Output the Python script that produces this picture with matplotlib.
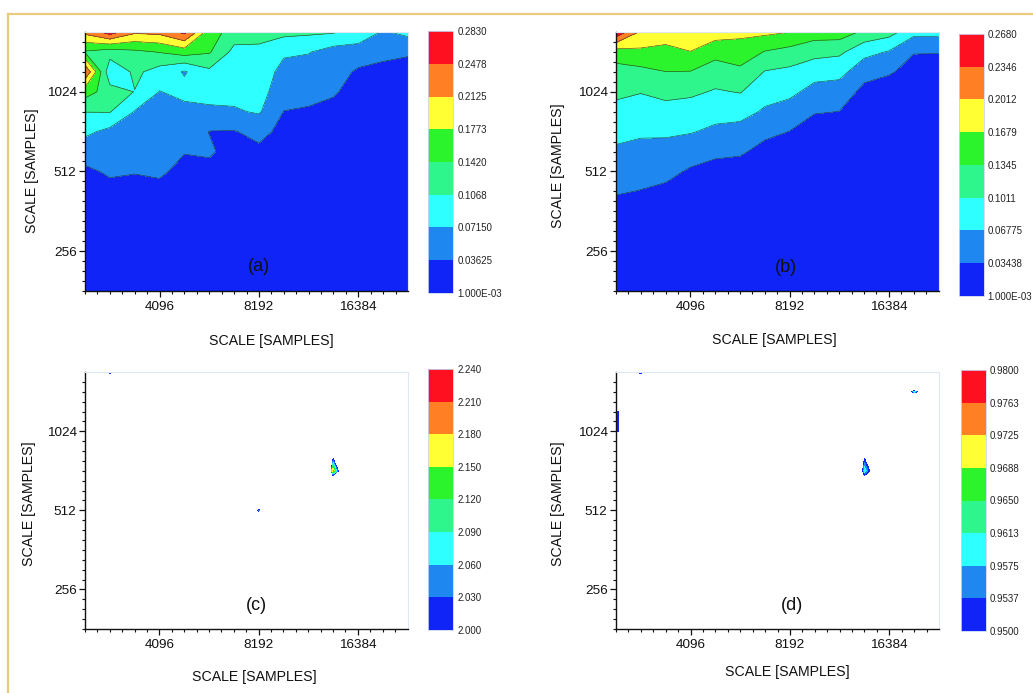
import numpy as np
import matplotlib
matplotlib.use("Agg")
import matplotlib.pyplot as plt
from matplotlib.lines import Line2D
from matplotlib.ticker import FixedLocator, FixedFormatter, NullFormatter

plt.rcParams['font.family'] = ['Liberation Sans', 'DejaVu Sans']

# grid of scales (samples), quarter-octave spacing
scale_x = [2435, 2896, 3444, 4096, 4871, 5793, 6889, 8192, 9742, 11585, 13777, 16384, 19484, 23170]
scale_y = [181, 215, 256, 304, 362, 431, 512, 609, 724, 861, 1024, 1218, 1448, 1722]

x_major = [4096, 8192, 16384]
y_major = [256, 512, 1024]

band_colors = ['#1024F8', '#1E88F0', '#2EFFFF', '#2EF58C', '#2CF42C', '#FFFF33', '#FF8024', '#FF1020']

levels_a = [0.001, 0.03625, 0.07150, 0.1068, 0.1420, 0.1773, 0.2125, 0.2478, 0.2830]
labels_a = ['1.000E-03', '0.03625', '0.07150', '0.1068', '0.1420', '0.1773', '0.2125', '0.2478', '0.2830']
levels_b = [0.001, 0.03438, 0.06775, 0.1011, 0.1345, 0.1679, 0.2012, 0.2346, 0.2680]
labels_b = ['1.000E-03', '0.03438', '0.06775', '0.1011', '0.1345', '0.1679', '0.2012', '0.2346', '0.2680']
levels_c = [2.000, 2.030, 2.060, 2.090, 2.120, 2.150, 2.180, 2.210, 2.240]
labels_c = ['2.000', '2.030', '2.060', '2.090', '2.120', '2.150', '2.180', '2.210', '2.240']
levels_d = [0.9500, 0.9537, 0.9575, 0.9613, 0.9650, 0.9688, 0.9725, 0.9763, 0.9800]
labels_d = ['0.9500', '0.9537', '0.9575', '0.9613', '0.9650', '0.9688', '0.9725', '0.9763', '0.9800']

# rows run from the smallest scale_y to the largest
z_a = [
    [0.0098, 0.0098, 0.0116, 0.0116, 0.0098, 0.0098, 0.0081, 0.0081, 0.0063, 0.0063, 0.0045, 0.0045, 0.0045, 0.0045],
    [0.0116, 0.0116, 0.0133, 0.0133, 0.0116, 0.0116, 0.0098, 0.0098, 0.0081, 0.0081, 0.0063, 0.0063, 0.0063, 0.0045],
    [0.0133, 0.0151, 0.0151, 0.0151, 0.0133, 0.0133, 0.0116, 0.0116, 0.0098, 0.0098, 0.0081, 0.0081, 0.0063, 0.0063],
    [0.0151, 0.0169, 0.0169, 0.0186, 0.0151, 0.0151, 0.0133, 0.0133, 0.0116, 0.0116, 0.0098, 0.0081, 0.0081, 0.0081],
    [0.0186, 0.0204, 0.0204, 0.0222, 0.0169, 0.0169, 0.0151, 0.0151, 0.0133, 0.0133, 0.0116, 0.0098, 0.0098, 0.0081],
    [0.0222, 0.0257, 0.0257, 0.0274, 0.0186, 0.0186, 0.0169, 0.0169, 0.0151, 0.0151, 0.0133, 0.0116, 0.0116, 0.0098],
    [0.0292, 0.0415, 0.0380, 0.0415, 0.0257, 0.0292, 0.0186, 0.0186, 0.0169, 0.0169, 0.0151, 0.0133, 0.0116, 0.0116],
    [0.0539, 0.0504, 0.0504, 0.0468, 0.0380, 0.0398, 0.0257, 0.0292, 0.0186, 0.0186, 0.0169, 0.0151, 0.0133, 0.0133],
    [0.0786, 0.0627, 0.0574, 0.0504, 0.0504, 0.0355, 0.0345, 0.0468, 0.0257, 0.0222, 0.0186, 0.0169, 0.0151, 0.0151],
    [0.1075, 0.1085, 0.0697, 0.0574, 0.0609, 0.0645, 0.0680, 0.0750, 0.0355, 0.0327, 0.0274, 0.0186, 0.0169, 0.0169],
    [0.1596, 0.1209, 0.1060, 0.0704, 0.0821, 0.0856, 0.0821, 0.0821, 0.0539, 0.0468, 0.0398, 0.0222, 0.0186, 0.0186],
    [0.2460, 0.0786, 0.1138, 0.0927, 0.0680, 0.0997, 0.0891, 0.0891, 0.0609, 0.0574, 0.0504, 0.0310, 0.0292, 0.0257],
    [0.1385, 0.1244, 0.1350, 0.1438, 0.1596, 0.1455, 0.0962, 0.0962, 0.0768, 0.0733, 0.0574, 0.0574, 0.0433, 0.0398],
    [0.2231, 0.2654, 0.2196, 0.2231, 0.2583, 0.1561, 0.1279, 0.1244, 0.1173, 0.1138, 0.1103, 0.0927, 0.0680, 0.0821],
]

z_b = [
    [0.0093, 0.0077, 0.0077, 0.0077, 0.0077, 0.0077, 0.0060, 0.0060, 0.0043, 0.0043, 0.0043, 0.0043, 0.0043, 0.0043],
    [0.0127, 0.0110, 0.0110, 0.0110, 0.0093, 0.0093, 0.0077, 0.0077, 0.0043, 0.0043, 0.0043, 0.0043, 0.0043, 0.0043],
    [0.0160, 0.0144, 0.0144, 0.0127, 0.0127, 0.0110, 0.0093, 0.0093, 0.0060, 0.0060, 0.0060, 0.0060, 0.0060, 0.0060],
    [0.0194, 0.0177, 0.0177, 0.0160, 0.0144, 0.0127, 0.0110, 0.0110, 0.0077, 0.0077, 0.0077, 0.0077, 0.0077, 0.0077],
    [0.0240, 0.0227, 0.0210, 0.0177, 0.0160, 0.0144, 0.0127, 0.0127, 0.0093, 0.0093, 0.0093, 0.0093, 0.0093, 0.0093],
    [0.0370, 0.0334, 0.0284, 0.0210, 0.0177, 0.0160, 0.0144, 0.0144, 0.0110, 0.0110, 0.0110, 0.0110, 0.0110, 0.0110],
    [0.0491, 0.0461, 0.0427, 0.0304, 0.0224, 0.0204, 0.0177, 0.0160, 0.0127, 0.0127, 0.0127, 0.0127, 0.0127, 0.0127],
    [0.0631, 0.0591, 0.0574, 0.0504, 0.0421, 0.0390, 0.0234, 0.0210, 0.0144, 0.0144, 0.0144, 0.0144, 0.0144, 0.0144],
    [0.0771, 0.0724, 0.0728, 0.0698, 0.0611, 0.0574, 0.0431, 0.0337, 0.0177, 0.0194, 0.0160, 0.0160, 0.0160, 0.0160],
    [0.0928, 0.0874, 0.0904, 0.0878, 0.0801, 0.0788, 0.0634, 0.0551, 0.0367, 0.0340, 0.0194, 0.0177, 0.0177, 0.0177],
    [0.1075, 0.1025, 0.1105, 0.1071, 0.0981, 0.1028, 0.0814, 0.0751, 0.0567, 0.0541, 0.0244, 0.0210, 0.0194, 0.0194],
    [0.1222, 0.1258, 0.1342, 0.1335, 0.1191, 0.1278, 0.0995, 0.0941, 0.0811, 0.0774, 0.0481, 0.0374, 0.0244, 0.0244],
    [0.1522, 0.1619, 0.1592, 0.1672, 0.1459, 0.1522, 0.1328, 0.1235, 0.1125, 0.1078, 0.0778, 0.0654, 0.0357, 0.0354],
    [0.2613, 0.1946, 0.1839, 0.1912, 0.1852, 0.1766, 0.1759, 0.1685, 0.1519, 0.1529, 0.1278, 0.1145, 0.0778, 0.0778],
]

z_c = [
    [1.00, 1.00, 1.00, 1.00, 1.00, 1.00, 1.00, 1.00, 1.00, 1.00, 1.00, 1.00, 1.00, 1.00],
    [1.00, 1.00, 1.00, 1.00, 1.00, 1.00, 1.00, 1.00, 1.00, 1.00, 1.00, 1.00, 1.00, 1.00],
    [1.00, 1.00, 1.00, 1.00, 1.00, 1.00, 1.00, 1.00, 1.00, 1.00, 1.00, 1.00, 1.00, 1.00],
    [1.00, 1.00, 1.00, 1.00, 1.00, 1.00, 1.00, 1.00, 1.00, 1.00, 1.00, 1.00, 1.00, 1.00],
    [1.00, 1.00, 1.00, 1.00, 1.00, 1.00, 1.00, 1.00, 1.00, 1.00, 1.00, 1.00, 1.00, 1.00],
    [1.00, 1.00, 1.00, 1.00, 1.00, 1.00, 1.00, 1.00, 1.00, 1.00, 1.00, 1.00, 1.00, 1.00],
    [1.00, 1.00, 1.00, 1.00, 1.00, 1.00, 1.00, 2.05, 1.00, 1.00, 1.00, 1.00, 1.00, 1.00],
    [1.00, 1.00, 1.00, 1.00, 1.00, 1.00, 1.00, 1.00, 1.00, 1.00, 1.43, 1.00, 1.00, 1.00],
    [1.00, 1.00, 1.00, 1.00, 1.00, 1.00, 1.00, 1.00, 1.00, 0.00, 2.19, 1.24, 1.00, 1.00],
    [1.00, 1.00, 1.00, 1.00, 1.00, 1.00, 1.00, 1.00, 1.00, 1.00, 1.873, 1.00, 1.00, 1.00],
    [1.00, 1.00, 1.00, 1.00, 1.00, 1.00, 1.00, 1.00, 1.00, 1.00, 1.00, 1.00, 1.00, 1.00],
    [1.00, 1.00, 1.00, 1.00, 1.00, 1.00, 1.00, 1.00, 1.00, 1.00, 1.00, 1.00, 1.00, 1.00],
    [1.00, 1.00, 1.00, 1.00, 1.00, 1.00, 1.00, 1.00, 1.00, 1.00, 1.00, 1.00, 1.00, 1.00],
    [1.00, 2.08, 1.00, 1.00, 1.00, 1.00, 1.00, 1.00, 1.00, 1.00, 1.00, 1.00, 1.00, 1.00],
]

z_d = [
    [0.90, 0.90, 0.90, 0.90, 0.90, 0.90, 0.90, 0.90, 0.90, 0.90, 0.90, 0.90, 0.90, 0.90],
    [0.90, 0.90, 0.90, 0.90, 0.90, 0.90, 0.90, 0.90, 0.90, 0.90, 0.90, 0.90, 0.90, 0.90],
    [0.90, 0.90, 0.90, 0.90, 0.90, 0.90, 0.90, 0.90, 0.90, 0.90, 0.90, 0.90, 0.90, 0.90],
    [0.90, 0.90, 0.90, 0.90, 0.90, 0.90, 0.90, 0.90, 0.90, 0.90, 0.90, 0.90, 0.90, 0.90],
    [0.90, 0.90, 0.90, 0.90, 0.90, 0.90, 0.90, 0.90, 0.90, 0.90, 0.90, 0.90, 0.90, 0.90],
    [0.90, 0.90, 0.90, 0.90, 0.90, 0.90, 0.90, 0.90, 0.90, 0.90, 0.90, 0.90, 0.90, 0.90],
    [0.90, 0.90, 0.90, 0.90, 0.90, 0.90, 0.90, 0.90, 0.90, 0.90, 0.90, 0.90, 0.90, 0.90],
    [0.90, 0.90, 0.90, 0.90, 0.90, 0.90, 0.90, 0.90, 0.90, 0.90, 0.917, 0.90, 0.90, 0.90],
    [0.90, 0.90, 0.90, 0.90, 0.90, 0.90, 0.90, 0.90, 0.90, 0.8235, 0.961, 0.906, 0.90, 0.90],
    [0.90, 0.90, 0.90, 0.90, 0.90, 0.90, 0.90, 0.90, 0.90, 0.90, 0.9427, 0.90, 0.90, 0.90],
    [0.9525, 0.92, 0.90, 0.90, 0.90, 0.90, 0.90, 0.90, 0.90, 0.90, 0.90, 0.90, 0.90, 0.90],
    [0.9525, 0.92, 0.90, 0.90, 0.90, 0.90, 0.90, 0.90, 0.90, 0.90, 0.90, 0.90, 0.73, 0.90],
    [0.90, 0.90, 0.90, 0.90, 0.90, 0.90, 0.90, 0.90, 0.90, 0.90, 0.90, 0.857, 0.9615, 0.857],
    [0.90, 0.9555, 0.90, 0.90, 0.90, 0.90, 0.90, 0.90, 0.90, 0.90, 0.90, 0.90, 0.73, 0.90],
]

W, H = 1033, 693
fig = plt.figure(figsize=(W / 100, H / 100), dpi=100)
fig.patch.set_facecolor('white')


def px_rect(x0, y0, x1, y1):
    """Pixel box (top-left origin) to figure fraction rectangle."""
    return [x0 / W, 1 - y1 / H, (x1 - x0) / W, (y1 - y0) / H]


def draw_panel(ax_box, cb_box, z, levels, level_labels, tag, tag_xy,
               xlab_xy, ylab_xy, outlined):
    ax = fig.add_axes(px_rect(*ax_box))
    zz = np.array(z)
    cs = ax.contourf(scale_x, scale_y, zz, levels=levels, colors=band_colors)
    if outlined:
        ax.contour(scale_x, scale_y, zz, levels=levels[1:-1],
                   colors='#2a2a2a', linewidths=0.45, alpha=0.85)
    ax.set_xscale('log', base=2)
    ax.set_yscale('log', base=2)
    ax.set_xlim(scale_x[0], scale_x[-1])
    ax.set_ylim(scale_y[0], scale_y[-1])

    ax.xaxis.set_major_locator(FixedLocator(x_major))
    ax.xaxis.set_major_formatter(FixedFormatter([str(v) for v in x_major]))
    ax.xaxis.set_minor_locator(FixedLocator(2.0 ** (np.arange(90, 117) / 8)))
    ax.xaxis.set_minor_formatter(NullFormatter())
    ax.yaxis.set_major_locator(FixedLocator(y_major))
    ax.yaxis.set_major_formatter(FixedFormatter([str(v) for v in y_major]))
    ax.yaxis.set_minor_locator(FixedLocator(2.0 ** (np.arange(60, 87) / 8)))
    ax.yaxis.set_minor_formatter(NullFormatter())

    ax.tick_params(axis='both', which='major', direction='out', length=4.5,
                   width=0.9, labelsize=9.7, pad=1.5, colors='#111111')
    ax.tick_params(axis='x', which='major', pad=3)
    ax.tick_params(axis='both', which='minor', direction='out', length=2.5,
                   width=0.8, colors='#111111')

    for side in ('left', 'bottom'):
        ax.spines[side].set_color('#111111')
        ax.spines[side].set_linewidth(1.0)
    for side in ('top', 'right'):
        ax.spines[side].set_color('#dfe6f4')
        ax.spines[side].set_linewidth(0.8)

    ax.set_xlabel('SCALE [SAMPLES]', fontsize=10.2, va='center', color='#111111')
    ax.xaxis.set_label_coords(*xlab_xy)
    ax.set_ylabel('SCALE [SAMPLES]', fontsize=10.2, va='center', color='#111111')
    ax.yaxis.set_label_coords(*ylab_xy)

    ax.text(tag_xy[0], tag_xy[1], tag, transform=ax.transAxes,
            ha='center', va='center', fontsize=13, color='#111111')

    cax = fig.add_axes(px_rect(*cb_box))
    cb = fig.colorbar(cs, cax=cax)
    cb.set_ticks(levels)
    cb.set_ticklabels(level_labels)
    cax.tick_params(length=0, pad=3, labelsize=7, colors='#222222')
    cb.outline.set_edgecolor('#c9d5f2')
    cb.outline.set_linewidth(0.6)
    return ax


draw_panel((85, 32, 408, 291), (428, 31, 453, 293), z_a, levels_a, labels_a,
           '(a)', (0.539, 0.093), (0.578, -0.192), (-0.164, 0.463), True)
draw_panel((616, 32, 938.5, 291), (959, 34, 983.5, 295.7), z_b, levels_b, labels_b,
           '(b)', (0.528, 0.090), (0.490, -0.189), (-0.179, 0.483), True)
draw_panel((85, 372, 407.5, 629), (428, 369, 453, 630), z_c, levels_c, labels_c,
           '(c)', (0.533, 0.090), (0.524, -0.188), (-0.173, 0.489), False)
draw_panel((616, 372, 939, 629), (961, 370, 985.5, 631), z_d, levels_d, labels_d,
           '(d)', (0.544, 0.092), (0.530, -0.166), (-0.179, 0.489), False)

# gold page frame along the top and left edges
frame_color = '#E9CB7C'
fig.add_artist(Line2D([8.3 / W, 8.3 / W], [0, 1 - 13.7 / H],
                      transform=fig.transFigure, color=frame_color, lw=1.6))
fig.add_artist(Line2D([8.3 / W, 1], [1 - 13.7 / H, 1 - 13.7 / H],
                      transform=fig.transFigure, color=frame_color, lw=1.6))

fig.savefig('out.png', dpi=100, facecolor='white')
